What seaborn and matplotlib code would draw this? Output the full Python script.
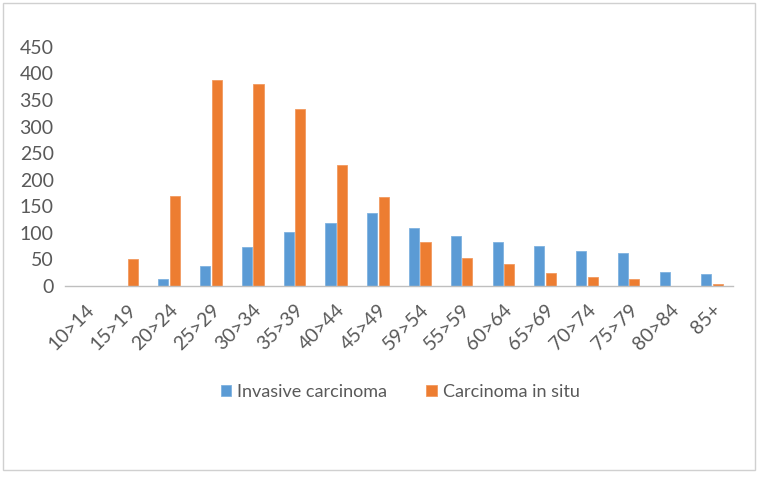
import matplotlib
matplotlib.use("Agg")
import matplotlib.pyplot as plt
import seaborn as sns
import pandas as pd
from matplotlib.patches import Rectangle

categories = ["10>14", "15>19", "20>24", "25>29", "30>34", "35>39", "40>44", "45>49",
              "59>54", "55>59", "60>64", "65>69", "70>74", "75>79", "80>84", "85+"]
invasive = [0, 0, 13, 38, 74, 102, 118, 137, 110, 95, 82, 76, 66, 63, 27, 23]
in_situ = [0, 50, 170, 388, 381, 334, 228, 168, 82, 52, 42, 25, 16, 14, 0, 3]
series_names = ["Invasive carcinoma", "Carcinoma in situ"]
yticks = [0, 50, 100, 150, 200, 250, 300, 350, 400, 450]

df = pd.DataFrame({
    "age": categories * 2,
    "value": invasive + in_situ,
    "series": [series_names[0]] * len(categories) + [series_names[1]] * len(categories),
})

sns.set_theme(style="white")
plt.rcParams["font.family"] = ["Lato", "DejaVu Sans"]
text_color = "#595959"

fig = plt.figure(figsize=(7.62, 4.79), dpi=100)
ax = fig.add_axes([0.085, 0.403, 0.877, 0.499])

sns.barplot(data=df, x="age", y="value", hue="series", order=categories,
            hue_order=series_names, palette=["#5B9BD5", "#ED7D31"], saturation=1,
            width=0.55, gap=0.12, ax=ax, legend=True, linewidth=0.6)
for bar in ax.patches:
    fc = bar.get_facecolor()
    if abs(fc[0] - 0x5B / 255) < 0.02:
        bar.set_edgecolor("#7FB2E0")
    else:
        bar.set_edgecolor("#F29A60")

ax.set_ylim(0, 450)
ax.set_yticks(yticks)
ax.set_yticklabels([str(t) for t in yticks], fontsize=14, color=text_color)
ax.set_xlim(-0.5, len(categories) - 0.5)
ax.set_xticks(range(len(categories)))
ax.set_xticklabels(categories, rotation=45, ha="right", rotation_mode="anchor",
                   fontsize=14, color=text_color)
ax.tick_params(axis="x", length=0, pad=11)
ax.tick_params(axis="y", length=0, pad=8)
ax.set_xlabel("")
ax.set_ylabel("")
for s in ["top", "right", "left"]:
    ax.spines[s].set_visible(False)
ax.spines["bottom"].set_color("#BFBFBF")
ax.spines["bottom"].set_linewidth(1.0)

handles, labels = ax.get_legend_handles_labels()
ax.legend_.remove()
fig.legend(handles, labels, loc="center", bbox_to_anchor=(0.525, 0.182), ncol=2,
           frameon=False, fontsize=13, handlelength=0.6, handleheight=0.6,
           columnspacing=2.2, handletextpad=0.3, labelcolor=text_color)

fig.patches.append(Rectangle((0.004, 0.018), 0.987, 0.975, transform=fig.transFigure,
                             fill=False, edgecolor="#D0D0D0", linewidth=1.0))

fig.savefig("out.png", dpi=100)
